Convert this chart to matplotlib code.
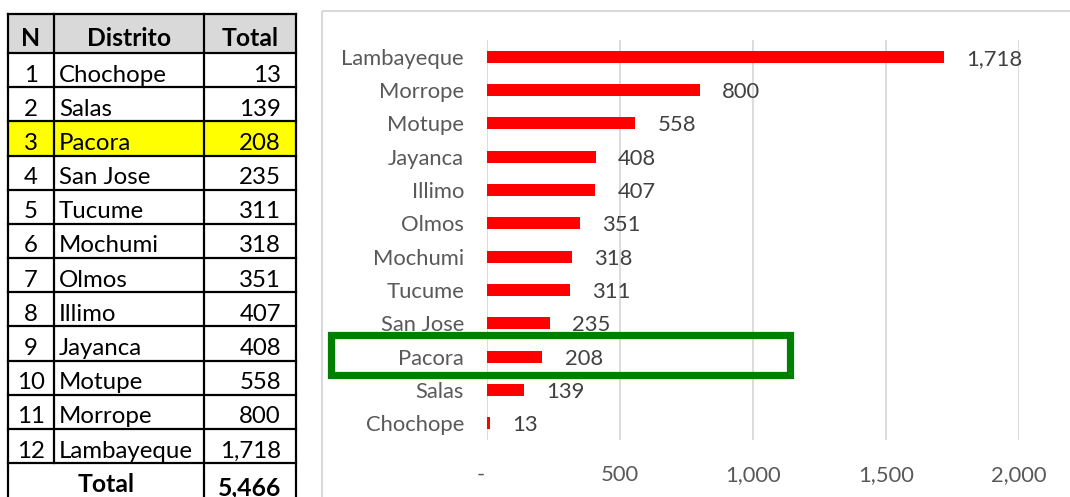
import matplotlib
matplotlib.use("Agg")
import matplotlib.pyplot as plt
from matplotlib.patches import Rectangle

plt.rcParams['font.family'] = ['Lato', 'DejaVu Sans']

# ---- data ----
districts = ["Chochope", "Salas", "Pacora", "San Jose", "Tucume", "Mochumi",
             "Olmos", "Illimo", "Jayanca", "Motupe", "Morrope", "Lambayeque"]
totals = [13, 139, 208, 235, 311, 318, 351, 407, 408, 558, 800, 1718]
numbers = list(range(1, len(districts) + 1))
header = ["N", "Distrito", "Total"]
highlight = "Pacora"
x_ticks = [0, 500, 1000, 1500, 2000]
x_tick_labels = ["-  ", "500", "1,000", "1,500", "2,000"]

W, H = 1070, 497
fig = plt.figure(figsize=(W / 100, H / 100), dpi=100)

def fx(px):
    return px / W

def fy(py):
    return 1 - py / H

# ---- chart axes ----
ax_left, ax_right, ax_top, ax_bot = 487, 1019, 40, 440
ax = fig.add_axes([fx(ax_left), fy(ax_bot), fx(ax_right - ax_left), (ax_bot - ax_top) / H])
ax.set_facecolor('none')
ypos = list(range(len(districts)))
ax.barh(ypos, totals, height=0.36, color='#FF0000', zorder=3)
ax.set_xlim(0, 2000)
ax.set_ylim(-0.5, len(districts) - 0.5)
ax.set_xticks(x_ticks)
ax.set_xticklabels(x_tick_labels)
ax.set_yticks(ypos)
ax.set_yticklabels(districts)
cfs = 15.8
ax.tick_params(axis='y', length=0, pad=16.5, labelsize=cfs, labelcolor='#595959')
ax.tick_params(axis='x', length=0, pad=18, labelsize=cfs, labelcolor='#595959')
ax.grid(axis='x', color='#D9D9D9', linewidth=1.3, zorder=0)
for s in ax.spines.values():
    s.set_visible(False)
for yv, v in zip(ypos, totals):
    ax.annotate(f"{v:,}", xy=(v, yv), xytext=(16, -1.5), textcoords='offset points',
                ha='left', va='center', fontsize=cfs, color='#404040')

# ---- overlay axes in pixel coordinates ----
ov = fig.add_axes([0, 0, 1, 1])
ov.set_xlim(0, W)
ov.set_ylim(H, 0)
ov.axis('off')
ov.set_facecolor('none')

# chart frame
ov.add_patch(Rectangle((322, 11), 800, 600, fill=False, edgecolor='#D9D9D9', linewidth=1.5))

# highlight box around Pacora
ov.add_patch(Rectangle((330.5, 334.5), 459, 40, fill=False, edgecolor='#008000', linewidth=5.2, zorder=5))

# ---- table ----
cx = [8, 54, 204, 296]
hdr_top, hdr_bot = 14, 53
row_h = (463 - 53) / 12
lw = 1.6
fs = 17.3
# header
ov.add_patch(Rectangle((cx[0], hdr_top), cx[3] - cx[0], hdr_bot - hdr_top, facecolor='#D9D9D9',
                       edgecolor='none'))
header_x = [(cx[0] + cx[1]) / 2, (cx[1] + cx[2]) / 2, (cx[2] + cx[3]) / 2]
for t, xx in zip(header, header_x):
    ov.text(xx, hdr_bot - 7, t, ha='center', va='baseline', fontsize=fs + 0.5, fontweight='bold',
            color='black')
# rows
for i, (n, d, v) in enumerate(zip(numbers, districts, totals)):
    top = hdr_bot + i * row_h
    bot = top + row_h
    if d == highlight:
        ov.add_patch(Rectangle((cx[0], top), cx[3] - cx[0], row_h, facecolor='#FFFF00', edgecolor='none'))
    ov.text(header_x[0], bot - 5.5, str(n), ha='center', va='baseline', fontsize=fs, color='black')
    ov.text(cx[1] + 5, bot - 5.5, d, ha='left', va='baseline', fontsize=fs, color='black')
    ov.text(cx[3] - 15, bot - 5.5, f"{v:,}", ha='right', va='baseline', fontsize=fs, color='black')
# total row
tot_top = hdr_bot + 12 * row_h
ov.text((cx[0] + cx[2]) / 2, tot_top + 29, "Total", ha='center', va='baseline', fontsize=fs + 0.5,
        fontweight='bold', color='black')
ov.text(cx[3] - 15, tot_top + 32, f"{sum(totals):,}", ha='right', va='baseline', fontsize=fs + 0.5,
        fontweight='bold', color='black')
# grid lines
for k in range(14):
    yy = hdr_top if k == 0 else hdr_bot + (k - 1) * row_h
    ov.plot([cx[0], cx[3]], [yy, yy], color='black', lw=lw, solid_capstyle='projecting')
ov.plot([cx[0], cx[0]], [hdr_top, H + 5], color='black', lw=lw)
ov.plot([cx[3], cx[3]], [hdr_top, H + 5], color='black', lw=lw)
ov.plot([cx[2], cx[2]], [hdr_top, H + 5], color='black', lw=lw)
ov.plot([cx[1], cx[1]], [hdr_top, tot_top], color='black', lw=lw)

fig.savefig("out.png", dpi=100)
